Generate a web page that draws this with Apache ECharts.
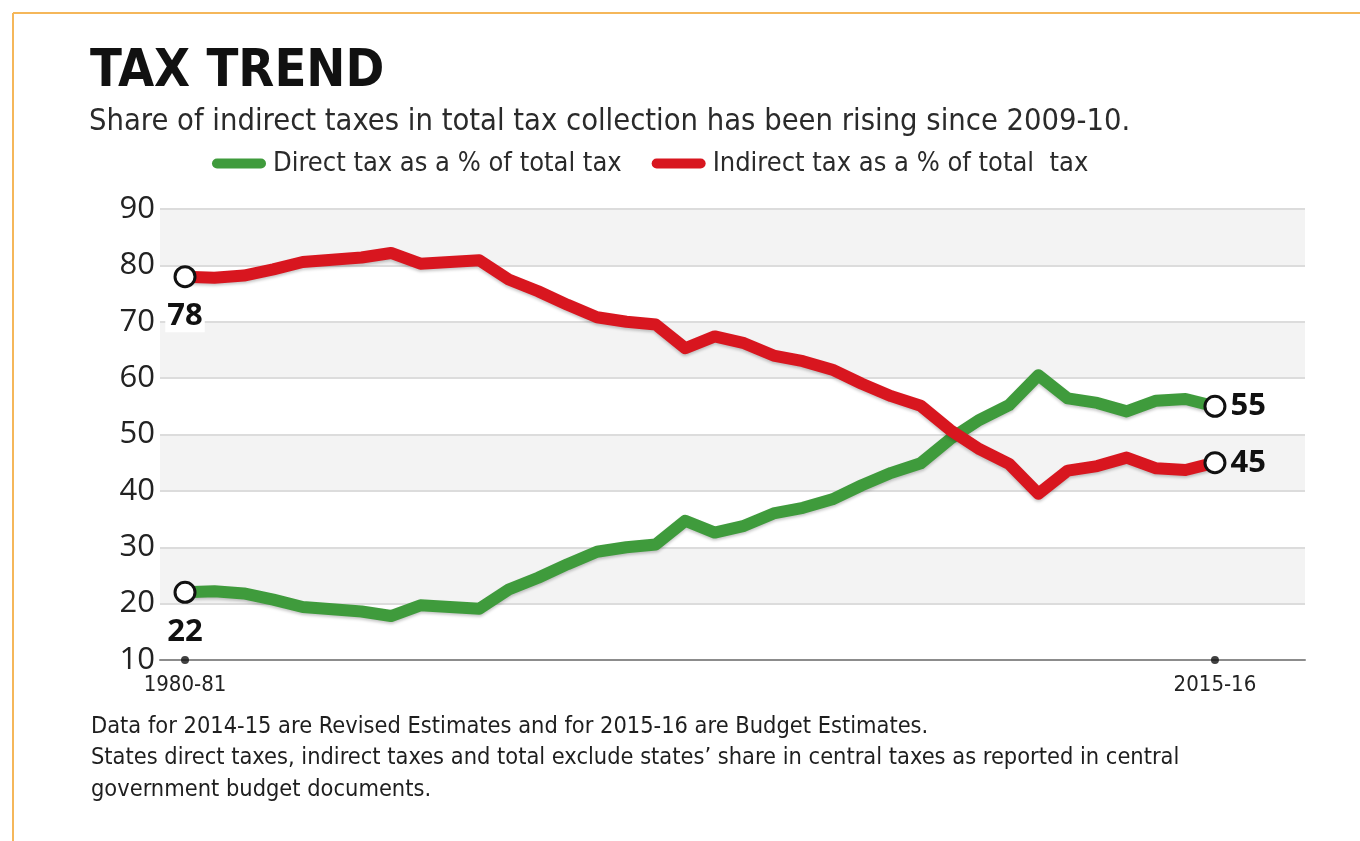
<!DOCTYPE html>
<html>
<head>
<meta charset="utf-8">
<script src="https://cdn.jsdelivr.net/npm/echarts@6/dist/echarts.min.js"></script>
<style>
  html, body { margin: 0; padding: 0; background: #ffffff; }
  #chart { width: 1360px; height: 841px; }
</style>
</head>
<body>
<div id="chart"></div>
<script>
// Fiscal years shown on the x axis
const years = [
  '1980-81','1981-82','1982-83','1983-84','1984-85','1985-86','1986-87','1987-88',
  '1988-89','1989-90','1990-91','1991-92','1992-93','1993-94','1994-95','1995-96',
  '1996-97','1997-98','1998-99','1999-00','2000-01','2001-02','2002-03','2003-04',
  '2004-05','2005-06','2006-07','2007-08','2008-09','2009-10','2010-11','2011-12',
  '2012-13','2013-14','2014-15','2015-16'
];

// Direct tax as a % of total tax
const directShare = [
  22, 22.2, 21.8, 20.7, 19.4, 19.0, 18.6, 17.8,
  19.7, 19.4, 19.1, 22.5, 24.6, 27.0, 29.2, 30.0,
  30.5, 34.7, 32.6, 33.8, 36.0, 37.0, 38.5, 41.0,
  43.2, 44.9, 49.2, 52.6, 55.2, 60.5, 56.4, 55.6,
  54.1, 56.0, 56.3, 55
];

// Indirect tax as a % of total tax
const indirectShare = [
  78, 77.8, 78.2, 79.3, 80.6, 81.0, 81.4, 82.2,
  80.3, 80.6, 80.9, 77.5, 75.4, 73.0, 70.8, 70.0,
  69.5, 65.3, 67.4, 66.2, 64.0, 63.0, 61.5, 59.0,
  56.8, 55.1, 50.8, 47.4, 44.8, 39.5, 43.6, 44.4,
  45.9, 44.0, 43.7, 45
];

// Axis ticks
const yTicks = [10, 20, 30, 40, 50, 60, 70, 80, 90];
const xLabelYears = ['1980-81', '2015-16'];

const seriesNames = ['Direct tax as a % of total tax', 'Indirect tax as a % of total  tax'];
const seriesColors = ['#3f9b3c', '#d8161f'];

const NARROW = "'Liberation Sans Narrow', 'DejaVu Sans Condensed', 'Roboto', sans-serif";
const SANS = "'Open Sans', 'Noto Sans', sans-serif";

// Pill-shaped legend swatch
const PILL = 'path://M5,0 H49 A5,5 0 0 1 49,10 H5 A5,5 0 0 1 5,0 Z';

function buildPoints(values) {
  const last = values.length - 1;
  return values.map((v, i) => {
    const edge = (i === 0 || i === last);
    const item = { value: [i, v] };
    if (edge) {
      item.symbol = 'circle';
      item.symbolSize = 20;
      item.itemStyle = { color: '#ffffff', borderColor: '#111111', borderWidth: 3 };
      item.label = {
        show: true,
        position: i === 0 ? 'bottom' : 'right',
        distance: i === 0 ? 13 : 2,
        formatter: p => String(Math.round(p.value[1])),
        fontFamily: SANS,
        fontWeight: 'bold',
        fontSize: 31,
        color: '#111111',
        backgroundColor: i === 0 ? '#ffffff' : 'transparent',
        padding: [0, 2, 0, 2]
      };
    } else {
      item.symbol = 'none';
    }
    return item;
  });
}

function lineSeries(idx, values) {
  return {
    name: seriesNames[idx],
    type: 'line',
    data: buildPoints(values),
    showSymbol: true,
    symbol: 'none',
    z: 3,
    lineStyle: {
      width: 12,
      color: seriesColors[idx],
      cap: 'round',
      join: 'round',
      shadowColor: 'rgba(0,0,0,0.22)',
      shadowBlur: 3,
      shadowOffsetY: 2
    },
    itemStyle: { color: seriesColors[idx] },
    emphasis: { disabled: true },
    animation: false
  };
}

const chart = echarts.init(document.getElementById('chart'), null, { renderer: 'canvas' });

chart.setOption({
  backgroundColor: '#ffffff',
  animation: false,
  title: [
    {
      text: 'TAX TREND',
      left: 85, top: 41,
      textStyle: { fontFamily: NARROW, fontWeight: 'bold', fontSize: 52, color: '#111111' }
    },
    {
      text: 'Share of indirect taxes in total tax collection has been rising since 2009-10.',
      left: 84, top: 102,
      textStyle: { fontFamily: NARROW, fontWeight: 'normal', fontSize: 30.6, color: '#2a2a2a' }
    },
    {
      text: 'Data for 2014-15 are Revised Estimates and for 2015-16 are Budget Estimates.\n' +
            'States direct taxes, indirect taxes and total exclude states\u2019 share in central taxes as reported in central\n' +
            'government budget documents.',
      left: 86, top: 706,
      textStyle: { fontFamily: NARROW, fontWeight: 'normal', fontSize: 23.4, lineHeight: 31.5, color: '#1e1e1e' }
    }
  ],
  legend: {
    left: 207, top: 145,
    itemWidth: 54, itemHeight: 11, itemGap: 30,
    icon: PILL,
    selectedMode: false,
    data: seriesNames,
    textStyle: { fontFamily: NARROW, fontSize: 27, color: '#2a2a2a', padding: [0, 0, 0, 2] }
  },
  grid: { left: 160, right: 55, top: 209, bottom: 181, containLabel: false },
  xAxis: {
    type: 'value',
    min: -0.85, max: 38.06,
    splitLine: { show: false },
    axisLine: { show: true, lineStyle: { color: '#8c8c8c', width: 2 } },
    axisTick: { show: false },
    axisLabel: {
      show: true,
      customValues: xLabelYears.map(y => years.indexOf(y)),
      formatter: v => years[Math.round(v)],
      fontFamily: NARROW, fontSize: 22, color: '#222222', margin: 14
    }
  },
  yAxis: {
    type: 'value',
    min: yTicks[0], max: yTicks[yTicks.length - 1], interval: 10,
    axisLine: { show: false },
    axisTick: { show: false },
    axisLabel: { fontFamily: SANS, fontSize: 31, color: '#222222', margin: 5 },
    splitLine: { show: true, lineStyle: { color: '#dcdcdc', width: 2 } },
    splitArea: { show: true, areaStyle: { color: ['#ffffff', '#f3f3f3'] } }
  },
  series: [
    lineSeries(0, directShare),
    lineSeries(1, indirectShare),
    {
      // dots marking the labelled years on the axis
      type: 'scatter',
      silent: true,
      symbolSize: 8,
      z: 4,
      itemStyle: { color: '#111111' },
      data: xLabelYears.map(y => [years.indexOf(y), yTicks[0]]),
      animation: false
    }
  ],
  graphic: [
    { type: 'line', shape: { x1: 13, y1: 13, x2: 1360, y2: 13 }, style: { stroke: '#f5b75a', lineWidth: 2 }, silent: true },
    { type: 'line', shape: { x1: 13, y1: 13, x2: 13, y2: 841 }, style: { stroke: '#f5b75a', lineWidth: 2 }, silent: true }
  ]
});
</script>
</body>
</html>
